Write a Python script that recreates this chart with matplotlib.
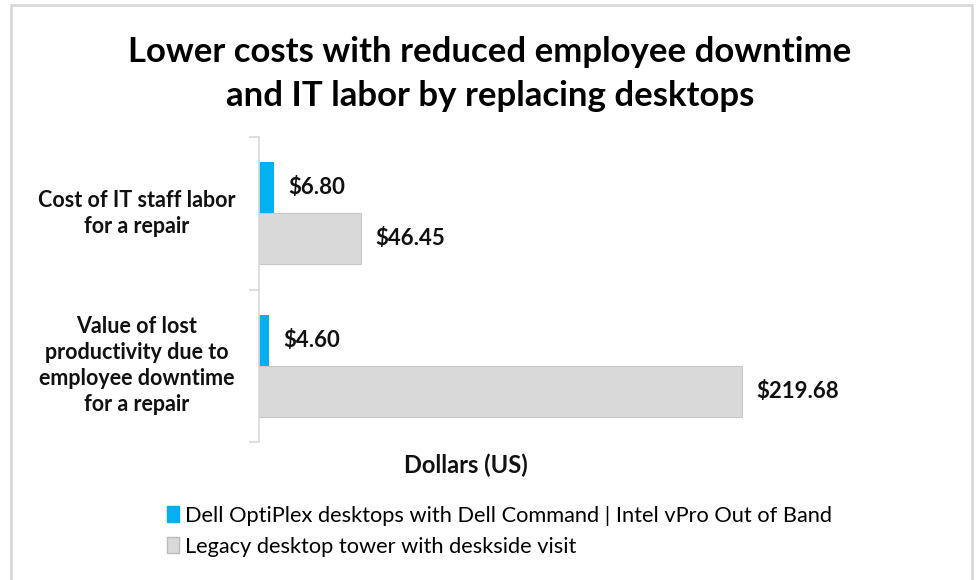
import matplotlib.pyplot as plt
import matplotlib.patches as mpatches
import matplotlib.transforms as mtransforms
import numpy as np

categories = ['Cost of IT staff labor\nfor a repair',
              'Value of lost\nproductivity due to\nemployee downtime\nfor a repair']
dell_values = [6.80, 4.60]
legacy_values = [46.45, 219.68]
series_names = ['Dell OptiPlex desktops with Dell Command | Intel vPro Out of Band',
                'Legacy desktop tower with deskside visit']

BLUE = '#00B0F0'
GREY = '#D9D9D9'

plt.rcParams['font.family'] = ['Lato', 'DejaVu Sans']

fig = plt.figure(figsize=(9.77, 5.8), dpi=100)

# cadre gris autour du graphique
fig.patches.append(mpatches.Rectangle((11 / 977, -0.05), 961 / 977, 1.05 - 5 / 580,
                                      transform=fig.transFigure, fill=False,
                                      edgecolor='#D9D9D9', linewidth=2))

ax = fig.add_axes([259 / 977, 138 / 580, (962 - 259) / 977, 305 / 580])

y = np.arange(len(categories))
h = 0.335
ax.barh(y - h / 2, dell_values, height=h, color=BLUE)
ax.barh(y + h / 2, legacy_values, height=h, color=GREY, edgecolor='#C8C8C8', linewidth=0.8)

ax.set_xlim(0, 320)
ax.set_ylim(1.5, -0.5)

# étiquettes de valeurs
for yi, v in zip(y, dell_values):
    ax.text(v + 6.5, yi - h / 2, f'${v:.2f}', va='center', ha='left',
            fontsize=16, fontweight='bold', color='#111111')
for yi, v in zip(y, legacy_values):
    ax.text(v + 6.5, yi + h / 2, f'${v:.2f}', va='center', ha='left',
            fontsize=16, fontweight='bold', color='#111111')

# axe vertical et séparateurs de catégories
for s in ['top', 'right', 'bottom']:
    ax.spines[s].set_visible(False)
ax.spines['left'].set_color('#D9D9D9')
ax.spines['left'].set_linewidth(1.2)
ax.set_xticks([])
ax.set_yticks([-0.5, 0.5, 1.5])
ax.set_yticklabels([])
ax.tick_params(axis='y', length=7, color='#D9D9D9', width=1.2)

# libellés des catégories, centrés à gauche de l'axe
label_tr = mtransforms.blended_transform_factory(fig.transFigure, ax.transData)
for yi, lab in zip(y, categories):
    ax.text(137 / 977, yi, lab, transform=label_tr, ha='center', va='center',
            fontsize=15.5, fontweight='bold', color='#111111', linespacing=1.3)

fig.text(466 / 977, 1 - 465 / 580, 'Dollars (US)', ha='center', va='center',
         fontsize=17, fontweight='bold', color='#111111')

fig.text(490 / 977, 1 - 74 / 580,
         'Lower costs with reduced employee downtime\nand IT labor by replacing desktops',
         ha='center', va='center', fontsize=25, fontweight='bold', color='#000000',
         linespacing=1.45)

handles = [mpatches.Patch(facecolor=BLUE, edgecolor=BLUE),
           mpatches.Patch(facecolor=GREY, edgecolor='#BBBBBB')]
fig.legend(handles, series_names, loc='upper left', bbox_to_anchor=(158 / 977, 1 - 497 / 580),
           frameon=False, fontsize=15.7, handlelength=0.55, handleheight=0.7,
           handletextpad=0.3, labelspacing=0.5, borderaxespad=0)

plt.savefig('out.png', dpi=100)
plt.close()
